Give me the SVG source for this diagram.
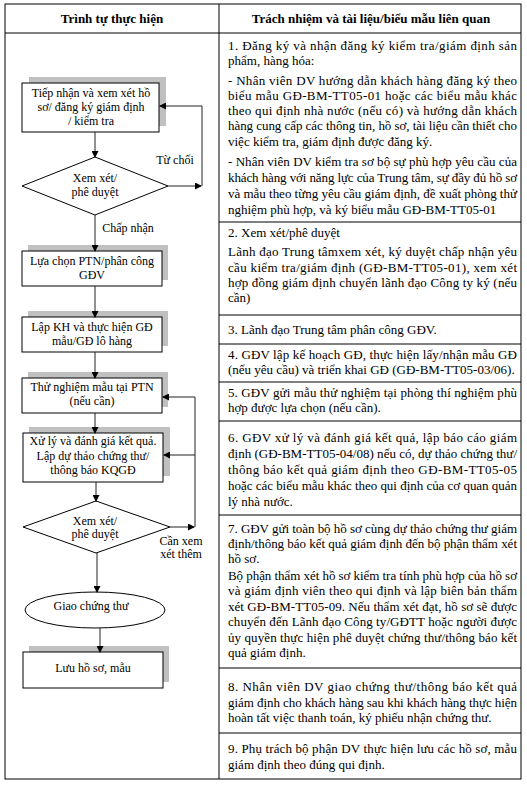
<svg xmlns="http://www.w3.org/2000/svg" width="527" height="786" viewBox="0 0 527 786">
<style>
.t{font-family:"Liberation Serif","Times New Roman",serif;font-size:13px;fill:#000}
.f{font-family:"Liberation Serif","Times New Roman",serif;font-size:12px;fill:#000;text-anchor:middle}
.h{font-family:"Liberation Serif","Times New Roman",serif;font-size:13px;font-weight:bold;fill:#000;text-anchor:middle}
.box{fill:#fff;stroke:#000;stroke-width:1}
.sh{fill:#c0c0c0;stroke:none}
.ln{fill:none;stroke:#000;stroke-width:1}
.conn{fill:none;stroke:#222;stroke-width:1}
</style>
<defs>
<marker id="ar" markerWidth="7" markerHeight="7" refX="6" refY="3.5" orient="auto" markerUnits="userSpaceOnUse">
<path d="M0,0 L7,3.5 L0,7 Z" fill="#000"/>
</marker>
</defs>
<rect width="527" height="786" fill="#fff"/>
<g id="table">
<rect class="ln" x="5" y="4" width="516" height="775"/>
<line class="ln" x1="5" y1="33" x2="521" y2="33"/>
<line class="ln" x1="219" y1="4" x2="219" y2="779"/>
<line class="ln" x1="219" y1="222" x2="521" y2="222"/>
<line class="ln" x1="219" y1="315" x2="521" y2="315"/>
<line class="ln" x1="219" y1="344" x2="521" y2="344"/>
<line class="ln" x1="219" y1="382" x2="521" y2="382"/>
<line class="ln" x1="219" y1="421" x2="521" y2="421"/>
<line class="ln" x1="219" y1="515" x2="521" y2="515"/>
<line class="ln" x1="219" y1="668" x2="521" y2="668"/>
<line class="ln" x1="219" y1="733" x2="521" y2="733"/>
<text class="h" x="112" y="23">Trình tự thực hiện</text>
<text class="h" x="371" y="23">Trách nhiệm và tài liệu/biểu mẫu liên quan</text>
</g>
<g id="desc">
<text class="t" x="228" y="50" textLength="289" lengthAdjust="spacing">1. Đăng ký và nhận đăng ký kiểm tra/giám định sản</text>
<text class="t" x="228" y="65">phẩm, hàng hóa:</text>
<text class="t" x="228" y="85" textLength="289" lengthAdjust="spacing">- Nhân viên DV hướng dẫn khách hàng đăng ký theo</text>
<text class="t" x="228" y="100" textLength="289" lengthAdjust="spacing">biểu mẫu GĐ-BM-TT05-01 hoặc các biểu mẫu khác</text>
<text class="t" x="228" y="115" textLength="289" lengthAdjust="spacing">theo qui định nhà nước (nếu có) và hướng dẫn khách</text>
<text class="t" x="228" y="130" textLength="289" lengthAdjust="spacing">hàng cung cấp các thông tin, hồ sơ, tài liệu cần thiết cho</text>
<text class="t" x="228" y="146">việc kiểm tra, giám định được đăng ký.</text>
<text class="t" x="228" y="166" textLength="289" lengthAdjust="spacing">-  Nhân viên DV kiểm tra sơ bộ sự phù hợp yêu cầu của</text>
<text class="t" x="228" y="182" textLength="289" lengthAdjust="spacing">khách hàng với năng lực của Trung tâm, sự đầy đủ hồ sơ</text>
<text class="t" x="228" y="198" textLength="289" lengthAdjust="spacing">và mẫu theo từng yêu cầu giám định, đề xuất phòng thử</text>
<text class="t" x="228" y="214">nghiệm phù hợp, và ký biểu mẫu GĐ-BM-TT05-01</text>

<text class="t" x="228" y="237">2. Xem xét/phê duyệt</text>
<text class="t" x="228" y="256" textLength="289" lengthAdjust="spacing">Lãnh đạo Trung tâmxem xét, ký duyệt chấp nhận yêu</text>
<text class="t" x="228" y="272" textLength="289" lengthAdjust="spacing">cầu kiểm tra/giám định (GĐ-BM-TT05-01), xem xét</text>
<text class="t" x="228" y="287" textLength="289" lengthAdjust="spacing">hợp đồng giám định chuyển lãnh đạo Công ty ký (nếu</text>
<text class="t" x="228" y="302">cần)</text>

<text class="t" x="228" y="334">3. Lãnh đạo Trung tâm phân công GĐV.</text>

<text class="t" x="228" y="359" textLength="289" lengthAdjust="spacing">4. GĐV lập kế hoạch GĐ, thực hiện  lấy/nhận mẫu GĐ</text>
<text class="t" x="228" y="374">(nếu yêu cầu) và triển khai GĐ (GĐ-BM-TT05-03/06).</text>

<text class="t" x="228" y="397" textLength="289" lengthAdjust="spacing">5. GĐV gửi mẫu thử nghiệm tại phòng thí nghiệm phù</text>
<text class="t" x="228" y="412">hợp được lựa chọn (nếu cần).</text>

<text class="t" x="228" y="442" textLength="289" lengthAdjust="spacing">6. GĐV xử lý và đánh giá kết quả, lập báo cáo giám</text>
<text class="t" x="228" y="458" textLength="289" lengthAdjust="spacing">định (GĐ-BM-TT05-04/08) nếu có, dự thảo chứng thư/</text>
<text class="t" x="228" y="474" textLength="289" lengthAdjust="spacing">thông báo  kết quả giám định theo GĐ-BM-TT05-05</text>
<text class="t" x="228" y="490" textLength="289" lengthAdjust="spacing">hoặc các biểu mẫu khác theo qui định của cơ quan quản</text>
<text class="t" x="228" y="506">lý nhà nước.</text>

<text class="t" x="228" y="533" textLength="289" lengthAdjust="spacing">7.  GĐV gửi toàn bộ hồ sơ cùng dự thảo chứng thư giám</text>
<text class="t" x="228" y="548" textLength="289" lengthAdjust="spacing">định/thông báo kết quả giám định đến bộ phận thẩm xét</text>
<text class="t" x="228" y="563">hồ sơ.</text>
<text class="t" x="228" y="580" textLength="289" lengthAdjust="spacing">Bộ phận thẩm xét hồ sơ kiểm tra tính phù hợp của hồ sơ</text>
<text class="t" x="228" y="595" textLength="289" lengthAdjust="spacing">và  giám định viên theo qui định và lập biên bản thẩm</text>
<text class="t" x="228" y="611" textLength="289" lengthAdjust="spacing">xét GĐ-BM-TT05-09. Nếu thẩm xét đạt, hồ sơ sẽ được</text>
<text class="t" x="228" y="626" textLength="289" lengthAdjust="spacing">chuyển đến Lãnh đạo  Công ty/GĐTT hoặc người được</text>
<text class="t" x="228" y="642" textLength="289" lengthAdjust="spacing">ủy quyền thực hiện phê duyệt chứng thư/thông báo kết</text>
<text class="t" x="228" y="657">quả giám định.</text>

<text class="t" x="228" y="691" textLength="289" lengthAdjust="spacing">8. Nhân viên DV giao chứng thư/thông báo kết quả</text>
<text class="t" x="228" y="707" textLength="289" lengthAdjust="spacing">giám định cho khách hàng sau khi khách hàng thực hiện</text>
<text class="t" x="228" y="722">hoàn tất việc thanh toán, ký phiếu nhận chứng thư.</text>

<text class="t" x="228" y="753" textLength="289" lengthAdjust="spacing">9. Phụ trách bộ phận DV thực hiện lưu các hồ sơ, mẫu</text>
<text class="t" x="228" y="769">giám định theo đúng qui định.</text>
</g>

<g id="n1">
<rect class="sh" x="29" y="77" width="137" height="49"/>
<rect class="box" x="22" y="83" width="137" height="49"/>
<text class="f" x="91" y="97">Tiếp nhận và xem xét hồ</text>
<text class="f" x="91" y="111">sơ/ đăng ký giám định</text>
<text class="f" x="91" y="125">/ kiểm tra</text>
</g>
<g id="n2">
<polygon class="box" points="22,186 95,157 168,186 95,215"/>
<text class="f" x="95" y="182">Xem xét/</text>
<text class="f" x="95" y="196">phê duyệt</text>
</g>
<g id="n3">
<rect class="sh" x="28" y="245" width="140" height="35"/>
<rect class="box" x="22" y="251" width="140" height="35"/>
<text class="f" x="92" y="265">Lựa chọn PTN/phân công</text>
<text class="f" x="92" y="279">GĐV</text>
</g>
<g id="n4">
<rect class="sh" x="28" y="311" width="140" height="35"/>
<rect class="box" x="22" y="317" width="140" height="35"/>
<text class="f" x="92" y="331">Lập KH và thực hiện GĐ</text>
<text class="f" x="92" y="345">mẫu/GĐ lô hàng</text>
</g>
<g id="n5">
<rect class="sh" x="28" y="372" width="140" height="35"/>
<rect class="box" x="22" y="378" width="140" height="35"/>
<text class="f" x="92" y="391">Thử nghiệm mẫu tại PTN</text>
<text class="f" x="92" y="405">(nếu cần)</text>
</g>
<g id="n6">
<rect class="sh" x="29" y="427" width="141" height="49"/>
<rect class="box" x="23" y="433" width="140" height="49"/>
<text class="f" x="93" y="445">Xử lý và đánh giá kết quả.</text>
<text class="f" x="93" y="460">Lập dự thảo chứng thư/</text>
<text class="f" x="93" y="474">thông báo KQGĐ</text>
</g>
<g id="n7">
<polygon class="box" points="23,527 96,501 170,527 96,553"/>
<text class="f" x="95" y="525">Xem xét/</text>
<text class="f" x="95" y="538">phê duyệt</text>
</g>
<g id="n8">
<ellipse class="box" cx="95" cy="610" rx="70" ry="18"/>
<text class="f" x="91" y="610">Giao chứng thư</text>
</g>
<g id="n9">
<rect class="sh" x="29" y="646" width="140" height="36"/>
<rect class="box" x="23" y="652" width="140" height="36"/>
<text class="f" x="93" y="672">Lưu hồ sơ, mẫu</text>
</g>

<g id="connectors">
<line class="conn" x1="95" y1="132" x2="95" y2="157" marker-end="url(#ar)"/>
<line class="conn" x1="168" y1="186" x2="201" y2="186" marker-end="url(#ar)"/>
<polyline class="conn" points="202,186 202,106 160,106" marker-end="url(#ar)"/>
<line class="conn" x1="95" y1="215" x2="95" y2="251" marker-end="url(#ar)"/>
<line class="conn" x1="95" y1="286" x2="95" y2="317" marker-end="url(#ar)"/>
<line class="conn" x1="95" y1="352" x2="95" y2="378" marker-end="url(#ar)"/>
<line class="conn" x1="95" y1="413" x2="95" y2="433" marker-end="url(#ar)"/>
<line class="conn" x1="96" y1="482" x2="96" y2="501" marker-end="url(#ar)"/>
<line class="conn" x1="170" y1="527" x2="194" y2="527" marker-end="url(#ar)"/>
<polyline class="conn" points="195,527 195,397 163,397" marker-end="url(#ar)"/>
<line class="conn" x1="195" y1="455" x2="164" y2="455" marker-end="url(#ar)"/>
<line class="conn" x1="97" y1="553" x2="97" y2="592" marker-end="url(#ar)"/>
<line class="conn" x1="100" y1="628" x2="100" y2="652" marker-end="url(#ar)"/>
<text class="f" x="175" y="164">Từ chối</text>
<text class="f" x="128" y="232">Chấp nhận</text>
<text class="f" x="181" y="545">Cần xem</text>
<text class="f" x="181" y="558">xét thêm</text>
</g>
</svg>
